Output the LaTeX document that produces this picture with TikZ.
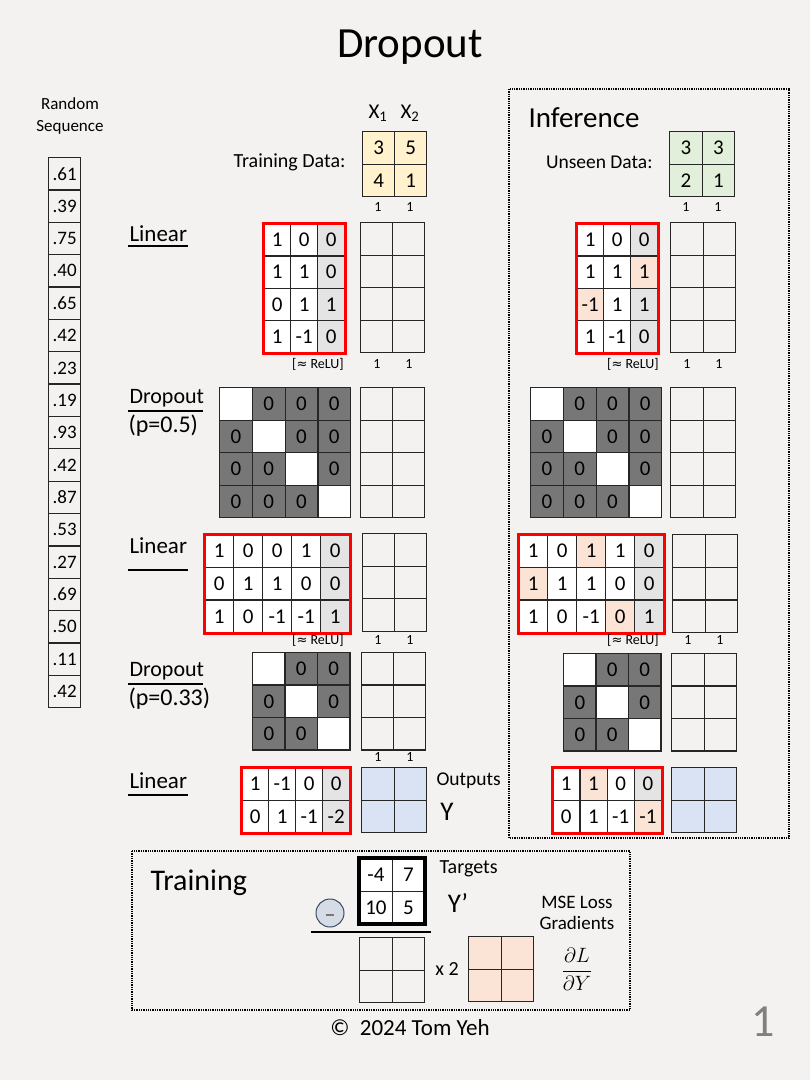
\documentclass[tikz,border=0pt]{standalone}
\usepackage{fontspec}
\setmainfont{Carlito}
\newfontfamily\symfont{DejaVu Sans}
\usetikzlibrary{matrix}
\definecolor{paper}{HTML}{F3F2F0}
\definecolor{cellline}{HTML}{262626}
\definecolor{lgray}{HTML}{E4E4E4}
\definecolor{dropc}{HTML}{777777}
\definecolor{hlc}{HTML}{FBE4D6}
\definecolor{bluc}{HTML}{DAE3F3}
\definecolor{grnc}{HTML}{E2EFDA}
\definecolor{yelc}{HTML}{FFF2CC}
\definecolor{redc}{HTML}{FF0000}
\definecolor{circf}{HTML}{D6DCE5}
\definecolor{circd}{HTML}{3B4A63}
\newcommand{\myfs}[1]{\fontsize{#1}{#1}\selectfont}
\begin{document}
\begin{tikzpicture}[x=1pt,y=-1pt,
  mat/.style={matrix of nodes, nodes in empty cells, inner sep=0pt, outer sep=0pt,
    column sep=-1.3pt, row sep=-1.3pt, anchor=north west,
    nodes={draw=cellline, line width=1.3pt, inner sep=0pt, outer sep=0pt,
      anchor=center, font=\myfs{21}, fill=white}},
  csz/.style 2 args={nodes={minimum width=#1pt, minimum height=#2pt}},
  nofill/.style={nodes={fill=none}},
  allfill/.style={nodes={fill=#1}},
  lg/.style={fill=lgray},
  hl/.style={fill=hlc},
  drop/.style={fill=dropc},
  redbox/.style={draw=redc, line width=3pt},
  linlab/.style={font=\myfs{23}},
  droplab/.style={font=\myfs{22}},
  plab/.style={font=\myfs{24}},
  small/.style={font=\myfs{14}},
  uline/.style={line width=1.3pt},
  dotbox/.style={draw=black, line width=1.3pt, densely dotted}
]
\fill[paper] (0,0) rectangle (810,1080);
\useasboundingbox (0,0) rectangle (810,1080);

% title
\node[font=\myfs{43}] (title) at (410,47) {Dropout};

% random sequence
\node[font=\fontsize{17}{22}\selectfont, align=center] (rslab) at (70,116) {Random\\Sequence};
\matrix (rs) [mat, nofill, csz={32}{32.35}, nodes={font=\myfs{19}}] at (48,157) {
.61\\ .39\\ .75\\ .40\\ .65\\ .42\\ .23\\ .19\\ .93\\ .42\\ .87\\ .53\\ .27\\ .69\\ .50\\ .11\\ .42\\};

% ---------------- training column ----------------
\node[font=\myfs{21}] (x1) at (378,113) {X\textsubscript{1}};
\node[font=\myfs{21}] (x2) at (410,113) {X\textsubscript{2}};
\node[font=\myfs{20}, anchor=east] (tdlab) at (349,162) {Training Data:};
\matrix (tdata) [mat, allfill=yelc, csz={32}{32.5}] at (362,131) {
3 & 5\\
4 & 1\\};
\node[small] (td1a) at (378,207) {1};
\node[small] (td1b) at (410,207) {1};

% linear 1
\node[linlab, anchor=west] (llab1) at (126,234) {Linear};
\draw[uline] (128,246) -- (188,246);
\matrix (tlin1) [mat, csz={27}{32.25}] at (263,223) {
1 & 0 & |[lg]|0\\
1 & 1 & |[lg]|0\\
0 & 1 & |[lg]|1\\
1 & -1 & |[lg]|0\\};
\draw[redbox] (tlin1.north west) rectangle (tlin1.south east);
\matrix (tz1) [mat, nofill, csz={32}{32.5}] at (360,222) {
 & \\ & \\ & \\ & \\};
\node[small] (trelu1) at (318,364) {[{\symfont\myfs{13}≈} ReLU]};
\node[small] (tz1a) at (377,364) {1};
\node[small] (tz1b) at (409,364) {1};

% dropout 1
\node[droplab, anchor=south west] (dlab1) at (126,411) {Dropout};
\draw[uline] (128,411) -- (203,411);
\node[plab, anchor=north west] (dp1) at (125,411) {(p=0.5)};
\matrix (tdrop1) [mat, csz={32.75}{32.5}] at (219,387) {
 & |[drop]|0 & |[drop]|0 & |[drop]|0\\
|[drop]|0 & & |[drop]|0 & |[drop]|0\\
|[drop]|0 & |[drop]|0 & & |[drop]|0\\
|[drop]|0 & |[drop]|0 & |[drop]|0 & \\};
\matrix (tz2) [mat, nofill, csz={32}{32.5}] at (360,387) {
 & \\ & \\ & \\ & \\};

% linear 2
\node[linlab, anchor=west] (llab2) at (126,546) {Linear};
\draw[uline] (128,570) -- (188,570);
\matrix (tlin2) [mat, csz={29}{32.7}] at (204,534) {
1 & 0 & 0 & 1 & |[lg]|0\\
0 & 1 & 1 & 0 & |[lg]|0\\
1 & 0 & -1 & -1 & |[lg]|1\\};
\draw[redbox] (tlin2.north west) rectangle (tlin2.south east);
\matrix (tz3) [mat, nofill, csz={32}{32.5}] at (362,533) {
 & \\ & \\ & \\};
\node[small] (trelu2) at (318,640) {[{\symfont\myfs{13}≈} ReLU]};
\node[small] (tz3a) at (378,640) {1};
\node[small] (tz3b) at (410,640) {1};

% dropout 2
\node[droplab, anchor=south west] (dlab2) at (126,684) {Dropout};
\draw[uline] (128,684) -- (203,684);
\node[plab, anchor=north west] (dp2) at (125,684) {(p=0.33)};
\matrix (tdrop2) [mat, csz={32.4}{32.4}] at (252,652) {
 & |[drop]|0 & |[drop]|0\\
|[drop]|0 & & |[drop]|0\\
|[drop]|0 & |[drop]|0 & \\};
\matrix (tz4) [mat, nofill, csz={32}{32.4}] at (361,652) {
 & \\ & \\ & \\};
\node[small] (tz4a) at (378,757) {1};
\node[small] (tz4b) at (410,757) {1};

% linear 3
\node[linlab, anchor=west] (llab3) at (126,781) {Linear};
\draw[uline] (128,795) -- (188,795);
\matrix (tlin3) [mat, csz={27}{32.5}] at (241,767) {
1 & -1 & 0 & |[lg]|0\\
0 & 1 & -1 & |[lg]|-2\\};
\draw[redbox] (tlin3.north west) rectangle (tlin3.south east);
\matrix (tout) [mat, allfill=bluc, csz={32.5}{32.5}] at (361,767) {
 & \\ & \\};
\node[font=\myfs{19.5}, anchor=west] (outlab) at (433,781) {Outputs};
\node[font=\myfs{27}] (ylab) at (447,812) {Y};

% ---------------- inference column ----------------
\draw[dotbox] (509,89) rectangle (789,838);
\node[font=\myfs{29}, anchor=west] (inflab) at (525,118) {Inference};
\node[font=\myfs{19.5}, anchor=east] (udlab) at (656,162) {Unseen Data:};
\matrix (idata) [mat, allfill=grnc, csz={32.5}{32.5}] at (669,131) {
3 & 3\\
2 & 1\\};
\node[small] (id1a) at (686,207) {1};
\node[small] (id1b) at (718,207) {1};

\matrix (ilin1) [mat, csz={27}{32.25}] at (576,223) {
1 & 0 & |[lg]|0\\
1 & 1 & |[hl]|1\\
|[hl]|-1 & 1 & |[lg]|1\\
1 & -1 & |[lg]|0\\};
\draw[redbox] (ilin1.north west) rectangle (ilin1.south east);
\matrix (iz1) [mat, nofill, csz={32.5}{32.5}] at (670,222) {
 & \\ & \\ & \\ & \\};
\node[small] (irelu1) at (633,364) {[{\symfont\myfs{13}≈} ReLU]};
\node[small] (iz1a) at (687,364) {1};
\node[small] (iz1b) at (719,364) {1};

\matrix (idrop1) [mat, csz={32.75}{32.5}] at (530,387) {
 & |[drop]|0 & |[drop]|0 & |[drop]|0\\
|[drop]|0 & & |[drop]|0 & |[drop]|0\\
|[drop]|0 & |[drop]|0 & & |[drop]|0\\
|[drop]|0 & |[drop]|0 & |[drop]|0 & \\};
\matrix (iz2) [mat, nofill, csz={32.5}{32.5}] at (670,387) {
 & \\ & \\ & \\ & \\};

\matrix (ilin2) [mat, csz={29}{32.7}] at (518,534) {
1 & 0 & |[hl]|1 & 1 & |[lg]|0\\
|[hl]|1 & 1 & 1 & 0 & |[lg]|0\\
1 & 0 & -1 & |[hl]|0 & |[lg]|1\\};
\draw[redbox] (ilin2.north west) rectangle (ilin2.south east);
\matrix (iz3) [mat, nofill, csz={32.5}{32.7}] at (672,534) {
 & \\ & \\ & \\};
\node[small] (irelu2) at (633,640) {[{\symfont\myfs{13}≈} ReLU]};
\node[small] (iz3a) at (688,640) {1};
\node[small] (iz3b) at (720,640) {1};

\matrix (idrop2) [mat, csz={32.4}{32.4}] at (563,653) {
 & |[drop]|0 & |[drop]|0\\
|[drop]|0 & & |[drop]|0\\
|[drop]|0 & |[drop]|0 & \\};
\matrix (iz4) [mat, nofill, csz={32.5}{32.4}] at (671,653) {
 & \\ & \\ & \\};

\matrix (ilin3) [mat, csz={27.25}{32.5}] at (552,767) {
1 & |[hl]|1 & 0 & |[lg]|0\\
0 & 1 & -1 & |[hl]|-1\\};
\draw[redbox] (ilin3.north west) rectangle (ilin3.south east);
\matrix (iout) [mat, allfill=bluc, csz={32.5}{32.5}] at (671,767) {
 & \\ & \\};

% ---------------- training box ----------------
\draw[dotbox] (132,851) rectangle (630,1010);
\node[font=\myfs{30}, anchor=west] (trlab) at (147,883) {Training};
\matrix (targ) [mat, csz={32.5}{32.5}] at (359,858) {
-4 & 7\\
10 & 5\\};
\draw[line width=4pt] (targ.north west) rectangle (targ.south east);
\node[font=\myfs{20}, anchor=west] (targlab) at (436,869) {Targets};
\node[font=\myfs{27}] (yplab) at (458,903) {Y’};
\node[circle, draw=circd, fill=circf, line width=1pt, minimum size=28pt, inner sep=0pt] (minus) at (330,913) {};
\draw[line width=2.5pt, draw=dropc] ([xshift=-4pt,yshift=-2pt]minus.center) -- ([xshift=4pt,yshift=-2pt]minus.center);
\draw[line width=1.5pt] (311,932) -- (431,932);
\matrix (diff) [mat, nofill, csz={32.5}{32.5}] at (359,937) {
 & \\ & \\};
\node[font=\myfs{20}] (x2lab) at (447,969) {x 2};
\matrix (grad) [mat, allfill=hlc, csz={32.5}{32.5}] at (468,936) {
 & \\ & \\};
\node[font=\fontsize{19}{21}\selectfont, align=center] (mselab) at (577,913) {MSE Loss\\Gradients};
\node[font=\fontsize{20.74}{22}\selectfont, inner sep=1pt] (dldy) at (577,969) {$\displaystyle\frac{\partial L}{\partial Y}$};

% footer
\node[font=\myfs{23}] (copy) at (410,1028) {©\ \ 2024 Tom Yeh};
\node[font=\myfs{46}, text=gray] (pnum) at (763,1022) {1};
\end{tikzpicture}
\end{document}
